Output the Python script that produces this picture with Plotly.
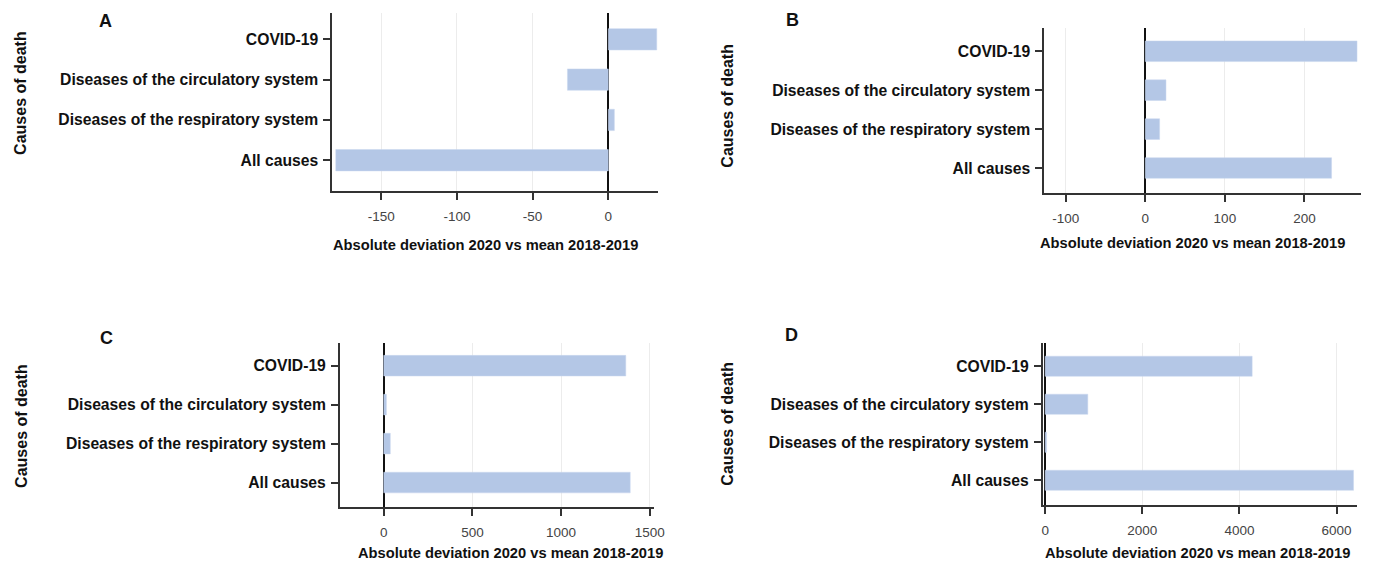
import plotly.graph_objects as go

# The page body has an 8px margin, so the figure is drawn at (8, 8) in the window.
OFF = 8
W, H = 1380 - OFF, 564 - OFF

# ---- data ----
categories = ["All causes", "Diseases of the respiratory system",
              "Diseases of the circulatory system", "COVID-19"]
values_A = [-180, 4, -27, 32]
values_B = [234, 18, 26, 266]
values_C = [1390, 37, 15, 1365]
values_D = [6350, 30, 878, 4263]

ticks_A = [-150, -100, -50, 0]
ticks_B = [-100, 0, 100, 200]
ticks_C = [0, 500, 1000, 1500]
ticks_D = [0, 2000, 4000, 6000]
ticklabels_A = ["-150", "-100", "-50", "0"]
ticklabels_B = ["-100", "0", "100", "200"]
ticklabels_C = ["0", "500", "1000", "1500"]
ticklabels_D = ["0", "2000", "4000", "6000"]

panel_letters = ["A", "B", "C", "D"]
x_title = "Absolute deviation 2020 vs mean 2018-2019"
y_title = "Causes of death"

# ---- layout per panel (window pixel boxes) ----
panels = [
    dict(vals=values_A, tv=ticks_A, tt=ticklabels_A, box=(334, 663, 13, 191),
         xr=[-182.4, 33], yr=[-0.764, 3.653], letter=(105, 21), ytit=(20, 93), xtit=(489, 245)),
    dict(vals=values_B, tv=ticks_B, tt=ticklabels_B, box=(1052.3, 1371.7, 28.3, 193.3),
         xr=[-127, 270.7], yr=[-0.65, 3.59], letter=(798, 20), ytit=(732, 106), xtit=(1202, 243)),
    dict(vals=values_C, tv=ticks_C, tt=ticklabels_C, box=(341.7, 658.3, 342.7, 506.7),
         xr=[-248, 1522], yr=[-0.62, 3.59], letter=(106, 338), ytit=(20, 426), xtit=(514, 553)),
    dict(vals=values_D, tv=ticks_D, tt=ticklabels_D, box=(1050.7, 1368.3, 342.7, 505),
         xr=[-53, 6430], yr=[-0.65, 3.62], letter=(797, 335), ytit=(732, 424), xtit=(1207, 553)),
]


def px(x):
    return (x - OFF) / W


def py(y):
    return 1 - (y - OFF) / H


FONT = "Liberation Sans, Arial, sans-serif"
BAR = "#b4c7e6"

fig = go.Figure()
annotations = []
layout = {}
for i, p in enumerate(panels):
    n = "" if i == 0 else str(i + 1)
    x0, x1, y0, y1 = p["box"]
    fig.add_trace(go.Bar(
        x=p["vals"], y=categories, orientation="h",
        marker=dict(color=BAR, line=dict(color="#c9d7ee", width=0.5)),
        width=0.53, xaxis="x" + n, yaxis="y" + n, showlegend=False,
    ))
    layout["xaxis" + n] = dict(
        domain=[px(x0), px(x1)], anchor="y" + n, range=p["xr"],
        tickvals=p["tv"], ticktext=p["tt"],
        showline=True, linecolor="#333", linewidth=1.6,
        ticks="outside", ticklen=7, tickwidth=1.5, tickcolor="#333",
        showgrid=True, gridcolor="#ececec", gridwidth=1,
        zeroline=True, zerolinecolor="#111", zerolinewidth=1.5,
        tickfont=dict(family=FONT, size=13.5, color="#444"),
        ticklabelstandoff=5, fixedrange=True,
    )
    layout["yaxis" + n] = dict(
        domain=[py(y1), py(y0)], anchor="x" + n, range=p["yr"],
        type="category", categoryorder="array", categoryarray=categories,
        showline=True, linecolor="#333", linewidth=1.6,
        ticks="outside", ticklen=7, tickwidth=1.5, tickcolor="#333",
        showgrid=False, zeroline=False,
        tickfont=dict(family=FONT, size=15.7, color="#111", weight="bold"),
        ticklabelstandoff=2, fixedrange=True,
    )
    lx, ly = p["letter"]
    annotations.append(dict(text="<b>%s</b>" % panel_letters[i], x=px(lx), y=py(ly),
                            xref="paper", yref="paper", showarrow=False,
                            xanchor="center", yanchor="middle",
                            font=dict(family=FONT, size=18, color="#111")))
    tx, ty = p["ytit"]
    annotations.append(dict(text="<b>%s</b>" % y_title, x=px(tx), y=py(ty),
                            xref="paper", yref="paper", showarrow=False, textangle=-90,
                            xanchor="center", yanchor="middle",
                            font=dict(family=FONT, size=16, color="#111")))
    xx, xy = p["xtit"]
    annotations.append(dict(text="<b>%s</b>" % x_title, x=px(xx), y=py(xy),
                            xref="paper", yref="paper", showarrow=False,
                            xanchor="center", yanchor="middle",
                            font=dict(family=FONT, size=14.7, color="#111")))

fig.update_layout(
    width=W, height=H, margin=dict(l=0, r=0, t=0, b=0),
    paper_bgcolor="white", plot_bgcolor="white",
    annotations=annotations, bargap=0.47,
    **layout,
)

fig.write_html("out.html", config={"displayModeBar": False})
